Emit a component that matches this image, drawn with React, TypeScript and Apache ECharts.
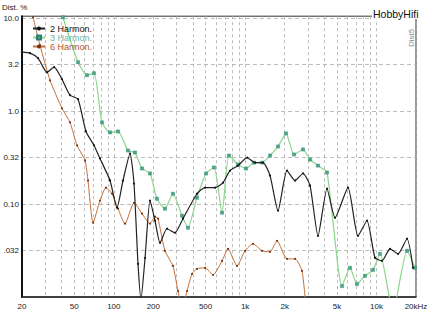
import React, { useEffect, useRef } from "react";
import * as echarts from "echarts";

// X axis (Hz)
const xTickValues = [20, 50, 100, 200, 500, 1000, 2000, 5000, 10000, 20000];
const xTickLabels = ["20", "50", "100", "200", "500", "1k", "2k", "5k", "10k", "20kHz"];
const xGridValues = [
  20, 30, 40, 50, 60, 70, 80, 90, 100, 200, 300, 400, 500, 600, 700, 800, 900,
  1000, 2000, 3000, 4000, 5000, 6000, 7000, 8000, 9000, 10000, 20000,
];

// Y axis (%)
const yTickValues = [10, 3.2, 1, 0.32, 0.1, 0.032];
const yTickLabels = ["10.0", "3.2", "1.0", "0.32", "0.10", ".032"];

// 2nd harmonic
const hz2 = [20, 23, 26.5, 31, 35.1, 40.3, 46.4, 53.4, 61.4, 70.7, 78.5, 93.6, 105.8, 117.5, 132.9, 142.5, 152.9, 161, 173, 188.7, 206, 225, 254, 292, 336, 430, 495, 590, 679, 767, 883, 1034, 1189, 1368, 1547, 1780, 2084, 2398, 2758, 3120, 3588, 4203, 4834, 6071, 7234, 8470, 9746, 11020, 12680, 14590, 17080, 18980];
const dist2 = [4.3, 4.19, 3.7, 2.61, 2.96, 2.2, 1.48, 1.34, 0.603, 0.426, 0.309, 0.179, 0.0913, 0.179, 0.349, 0.166, 0.0227, 0.0095, 0.0264, 0.109, 0.0661, 0.0383, 0.0542, 0.0491, 0.0695, 0.129, 0.15, 0.15, 0.17, 0.229, 0.259, 0.316, 0.279, 0.279, 0.202, 0.0848, 0.229, 0.179, 0.213, 0.158, 0.0455, 0.146, 0.0712, 0.15, 0.0455, 0.0661, 0.0264, 0.0245, 0.033, 0.0291, 0.0423, 0.0206];

// 3rd harmonic
const hz3 = [41, 53.4, 62.5, 70.7, 81.3, 93.6, 107.7, 128.3, 145, 164, 188.7, 213, 245, 282, 331, 367, 430, 504, 579, 667, 754, 883, 1015, 1168, 1345, 1547, 1780, 2047, 2356, 2758, 3120, 3588, 4203, 5466, 6288, 7108, 8178, 9412, 10640, 13360, 17080, 19650];
const dist3 = [10.2, 3.35, 2.43, 2.55, 0.755, 0.589, 0.603, 0.376, 0.358, 0.241, 0.213, 0.114, 0.0891, 0.129, 0.0748, 0.0556, 0.117, 0.213, 0.247, 0.0807, 0.332, 0.266, 0.241, 0.279, 0.279, 0.332, 0.416, 0.574, 0.341, 0.386, 0.301, 0.259, 0.218, 0.0131, 0.0206, 0.0138, 0.0169, 0.0196, 0.0291, 0.007, 0.0314, 0.0206];

// 6th harmonic
const hz6 = [24.3, 27.4, 32.7, 40.3, 46.4, 52.5, 60.4, 63.6, 69.5, 78.5, 87.2, 96.9, 107.7, 121.7, 142.5, 164, 188.7, 206, 217, 245, 282, 308, 331, 361, 394, 430, 495, 570, 667, 741, 867, 998, 1148, 1345, 1547, 1749, 2084, 2398, 2710, 2908];
const dist6 = [10.2, 5.11, 2.14, 1.07, 0.755, 0.426, 0.294, 0.179, 0.0629, 0.109, 0.15, 0.129, 0.0891, 0.0614, 0.103, 0.0787, 0.0614, 0.073, 0.0695, 0.0314, 0.0216, 0.0116, 0.0075, 0.0116, 0.0177, 0.0201, 0.0206, 0.0173, 0.0245, 0.033, 0.0216, 0.0314, 0.0373, 0.0314, 0.0306, 0.0402, 0.0257, 0.0257, 0.0191, 0.0075];

const seriesNames = ["2 Harmon.", "3 Harmon.", "6 Harmon."];

export default function App() {
  const ref = useRef<HTMLDivElement>(null);
  useEffect(() => {
    if (!ref.current) return;
    const chart = echarts.init(ref.current, null, { renderer: "svg" });
    const toPts = (hz: number[], d: number[]) => hz.map((f, i) => [Math.log10(f), Math.log10(d[i])]);
    const font = "'Liberation Sans', Arial, sans-serif";
    chart.setOption({
      animation: false,
      backgroundColor: "#ffffff",
      textStyle: { fontFamily: font },
      grid: { left: 22, right: 17, top: 16.2, bottom: 16, show: true, borderColor: "#333", borderWidth: 1 },
      xAxis: {
        type: "value",
        min: Math.log10(20),
        max: Math.log10(20000),
        axisLine: { show: true, onZero: false, lineStyle: { color: "#222", width: 1.5 } },
        axisTick: { show: false, customValues: xGridValues.map((v) => Math.log10(v)) },
        axisLabel: {
          customValues: xTickValues.map((v) => Math.log10(v)),
          formatter: (v: number) => {
            const i = xTickValues.findIndex((t) => Math.abs(Math.log10(t) - v) < 1e-6);
            return i >= 0 ? xTickLabels[i] : "";
          },
          fontSize: 8,
          color: "#222",
          margin: 5,
          showMinLabel: true,
          showMaxLabel: true,
        },
        splitLine: { show: true, lineStyle: { color: "#ababab", type: [3, 3], width: 0.8 } },
      },
      yAxis: {
        type: "value",
        min: -2,
        max: 1.02,
        axisLine: { show: true, lineStyle: { color: "#111", width: 2 } },
        axisTick: { show: false, customValues: yTickValues.map((v) => Math.log10(v)).concat([-2]) },
        axisLabel: {
          customValues: yTickValues.map((v) => Math.log10(v)),
          formatter: (v: number) => {
            const i = yTickValues.findIndex((t) => Math.abs(Math.log10(t) - v) < 0.02);
            return i >= 0 ? yTickLabels[i] : "";
          },
          fontSize: 8,
          color: "#222",
          margin: 3,
          hideOverlap: false,
        },
        splitLine: { show: true, lineStyle: { color: "#ababab", type: [4, 3], width: 0.8 } },
      },
      legend: {
        orient: "vertical",
        left: 27,
        top: 19,
        itemWidth: 12,
        itemHeight: 5,
        itemGap: 0,
        textStyle: { fontSize: 9, fontFamily: font },
        data: [
          { name: seriesNames[0], textStyle: { color: "#111" } },
          { name: seriesNames[1], textStyle: { color: "#5fb8a8" } },
          { name: seriesNames[2], textStyle: { color: "#b5552a" } },
        ],
      },
      graphic: [
        { type: "text", left: 2, top: 3, z: 100, style: { text: "Dist. %", fontSize: 8, fill: "#222", fontFamily: font } },
        {
          type: "text",
          left: 372,
          top: 8,
          z: 100,
          style: { text: "HobbyHifi", fontSize: 10.5, fill: "#111", fontFamily: font, backgroundColor: "#fff", padding: [0, 1] },
        },
        {
          type: "text",
          x: 411,
          y: 38,
          rotation: Math.PI / 2,
          z: 100,
          style: { text: "Dist5", fontSize: 8, fill: "#888", align: "center", verticalAlign: "middle", fontFamily: font },
        },
      ],
      series: [
        {
          name: seriesNames[0],
          type: "line",
          data: toPts(hz2, dist2),
          smooth: 0.2,
          symbol: "circle",
          symbolSize: 2,
          clip: true,
          z: 4,
          itemStyle: { color: "#111" },
          lineStyle: { color: "#222", width: 1.2 },
        },
        {
          name: seriesNames[1],
          type: "line",
          data: toPts(hz3, dist3),
          smooth: 0.2,
          symbol: "rect",
          symbolSize: 3.2,
          clip: true,
          z: 3,
          itemStyle: { color: "#4aa88a", borderColor: "#2f8070", borderWidth: 0.4 },
          lineStyle: { color: "#8ad68a", width: 1.2 },
        },
        {
          name: seriesNames[2],
          type: "line",
          data: toPts(hz6, dist6),
          smooth: 0.2,
          symbol: "circle",
          symbolSize: 2,
          clip: true,
          z: 2,
          itemStyle: { color: "#7a3010" },
          lineStyle: { color: "#c0703a", width: 1 },
        },
      ],
    });
    return () => chart.dispose();
  }, []);
  return (
    <div
      ref={ref}
      style={{ position: "fixed", left: 0, top: 0, width: 433, height: 313, background: "#fff" }}
    />
  );
}
